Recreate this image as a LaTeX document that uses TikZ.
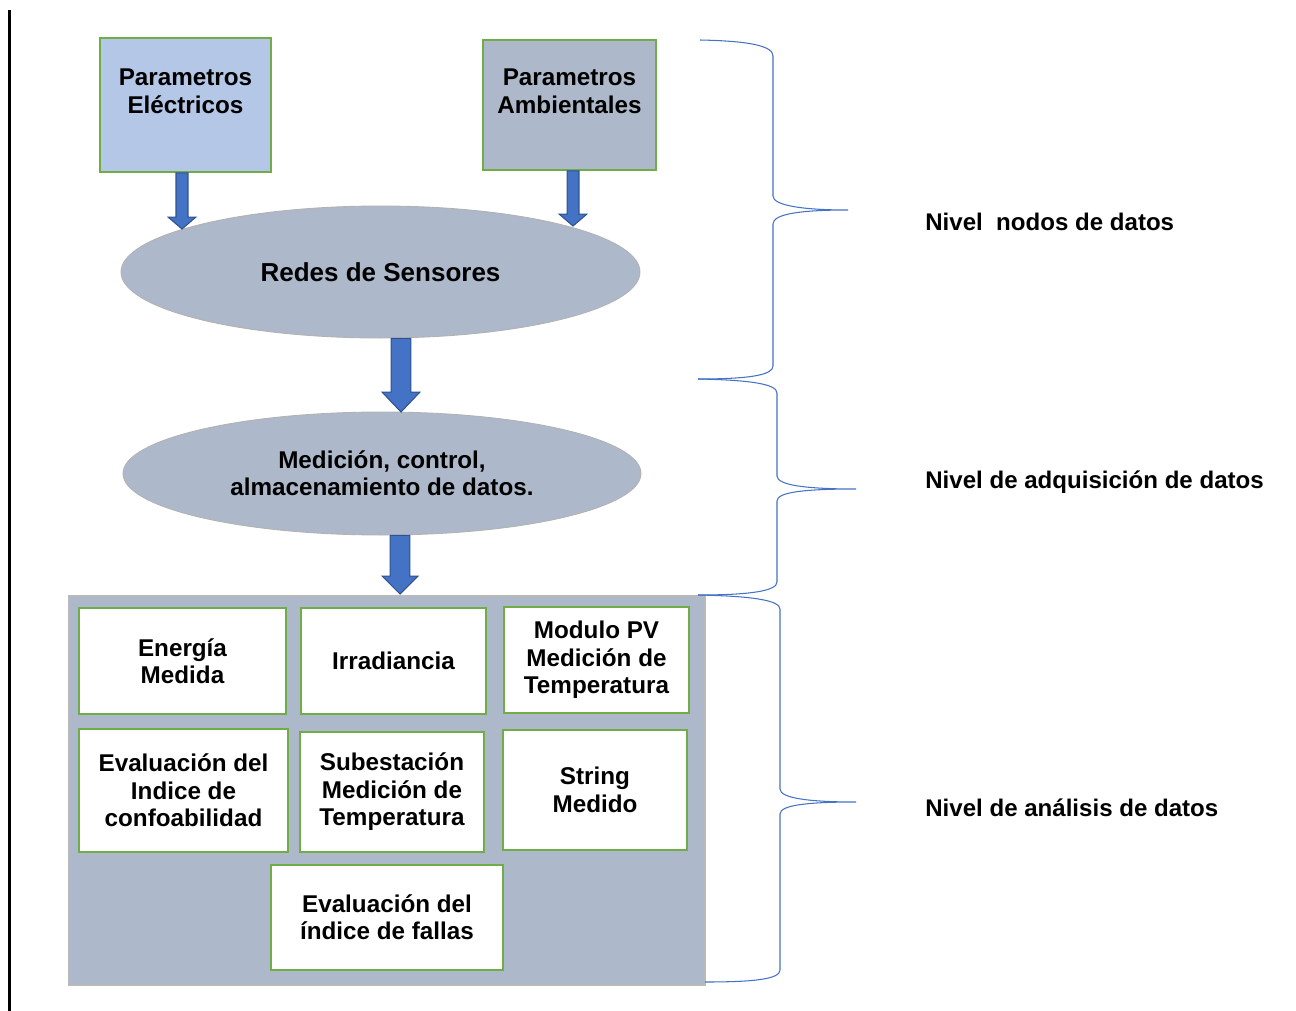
\documentclass[tikz,border=0pt]{standalone}
\usepackage{fontspec}
\setmainfont{Liberation Sans}
\usetikzlibrary{shapes.geometric,fit,calc}

\definecolor{lightblue}{HTML}{B4C7E7}
\definecolor{slate}{HTML}{ADB9CA}
\definecolor{leaf}{HTML}{70AD47}
\definecolor{arrowblue}{HTML}{4472C4}
\definecolor{arrowedge}{HTML}{2F528F}
\definecolor{bracecol}{HTML}{4472C4}

% block arrow pointing down: #1 start (y used), #2 tip (x and y used),
% #3 half shaft width, #4 half head width, #5 head length (all in px)
\newcommand\blockarrow[5]{%
  \filldraw[blockarrowstyle] let \p1=(#1), \p2=(#2) in
    ({\x2-#3*0.5669pt},\y1) -- ({\x2-#3*0.5669pt},{\y2+#5*0.5669pt})
    -- ({\x2-#4*0.5669pt},{\y2+#5*0.5669pt}) -- (\x2,\y2)
    -- ({\x2+#4*0.5669pt},{\y2+#5*0.5669pt}) -- ({\x2+#3*0.5669pt},{\y2+#5*0.5669pt})
    -- ({\x2+#3*0.5669pt},\y1) -- cycle;}

\tikzset{
  txt/.style={font=\fontsize{13.8}{15.6}\selectfont\bfseries, align=center, text=black},
  sz/.style 2 args={minimum width={#1*0.02cm}, minimum height={#2*0.02cm}},
  pbox/.style={txt, rectangle, draw=leaf, line width=1.1pt, inner sep=0pt},
  cell/.style={pbox, fill=white},
  ell/.style={txt, ellipse, fill=slate, draw=gray!60, line width=0.5pt, inner sep=0pt},
  panel/.style={rectangle, fill=slate, draw=gray!55, line width=0.6pt, inner sep=0pt},
  blockarrowstyle/.style={fill=arrowblue, draw=arrowedge, line width=0.6pt, line join=miter},
  bracestyle/.style={draw=bracecol, line width=0.6pt},
  lvl/.style={txt, font=\fontsize{13.7}{15.6}\selectfont\bfseries, anchor=west, align=left, inner sep=0pt},
}

\begin{document}
\begin{tikzpicture}[x=0.02cm, y=-0.02cm]
\useasboundingbox (0,0) rectangle (1296,1011);

% left rule
\draw[line width=1.7pt] (9.5,10) -- (9.5,1011);

% input parameter boxes
\node[pbox, fill=lightblue, sz={171}{134}] (pe) at (185.5,105) {Parametros\\Eléctricos\\\mbox{}};
\node[pbox, fill=slate, sz={173}{130}] (pa) at (569.5,105) {Parametros\\Ambientales\\\mbox{}};

% sensor network and acquisition stages
\node[ell, sz={519}{132}, font=\fontsize{14.8}{17}\selectfont\bfseries] (e1) at (380.5,272) {Redes de Sensores};
\node[ell, sz={518}{123}] (e2) at (382,473.5) {Medición, control,\\almacenamiento de datos.};

% analysis panel
\node[panel, fit={(69,596)(705,985)}] (panel) {};
\node[cell, sz={207}{106}] (c1) at (182.5,661) {Energía\\Medida};
\node[cell, sz={185}{106}] (c2) at (393.5,661) {Irradiancia};
\node[cell, sz={185}{106}] (c3) at (596.5,660) {Modulo PV\\Medición de\\Temperatura};
\node[cell, sz={209}{123}] (c4) at (183.5,790.5) {Evaluación del\\Indice de\\confoabilidad};
\node[cell, sz={184}{120}] (c5) at (392,792) {Subestación\\Medición de\\Temperatura};
\node[cell, sz={184}{120}] (c6) at (595,790) {String\\Medido};
\node[cell, sz={232}{105}] (c7) at (387,917.5) {Evaluación del\\índice de fallas};

% arrow tips
\coordinate (t1) at (182,229);
\coordinate (t2) at (573,226);
\coordinate (t3) at (401,412);
\coordinate (t4) at (400,594);

\blockarrow{pe.south}{t1}{6}{14}{12}
\blockarrow{pa.south}{t2}{6}{14}{12}
\blockarrow{e1.south}{t3}{10}{19}{20}
\blockarrow{e2.south}{t4}{10}{18}{18}

% level braces
\draw[bracestyle] (700,40) .. controls (750,41) and (773,46) .. (773,56)
  -- (773,196) .. controls (773,205) and (800,210) .. (848,210)
  .. controls (800,210) and (773,214) .. (773,224)
  -- (773,366) .. controls (773,375) and (750,379) .. (698,379);
\draw[bracestyle] (698,379) .. controls (750,380) and (777,384) .. (777,393)
  -- (777,476) .. controls (777,485) and (805,489) .. (856,489)
  .. controls (805,489) and (777,492) .. (777,501)
  -- (777,582) .. controls (777,591) and (750,595) .. (698,595);
\draw[bracestyle] (698,595) .. controls (750,596) and (780,600) .. (780,609)
  -- (780,789) .. controls (780,798) and (808,802) .. (856,802)
  .. controls (808,802) and (780,805) .. (780,814)
  -- (780,970) .. controls (780,979) and (755,982) .. (705,982);

% level labels
\node[lvl] (l1) at (925,222) {Nivel\ \ nodos de datos};
\node[lvl] (l2) at (925,482) {Nivel de adquisición de datos};
\node[lvl] (l3) at (925,808) {Nivel de análisis de datos};
\end{tikzpicture}
\end{document}
